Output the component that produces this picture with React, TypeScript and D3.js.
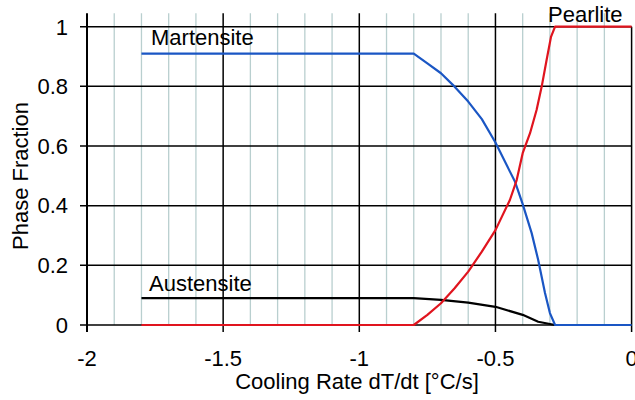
import React from "react";
import * as d3 from "d3";

const xTicks = [-2, -1.5, -1, -0.5, 0];
const xTickLabels = ["-2", "-1.5", "-1", "-0.5", "0"];
const xMinor = [-1.9, -1.8, -1.7, -1.6, -1.4, -1.3, -1.2, -1.1, -0.9, -0.8, -0.7, -0.6, -0.4, -0.3, -0.2, -0.1];
const yTicks = [0, 0.2, 0.4, 0.6, 0.8, 1];
const yTickLabels = ["0", "0.2", "0.4", "0.6", "0.8", "1"];

const martX = [-1.8, -0.8, -0.75, -0.7, -0.65, -0.6, -0.55, -0.5, -0.45, -0.428, -0.4, -0.367, -0.343, -0.318, -0.3, -0.281, 0];
const martY = [0.91, 0.91, 0.877, 0.844, 0.799, 0.749, 0.69, 0.612, 0.52, 0.48, 0.405, 0.308, 0.218, 0.107, 0.04, 0, 0];

const pearX = [-1.8, -0.8, -0.75, -0.7, -0.65, -0.6, -0.55, -0.5, -0.447, -0.422, -0.4, -0.373, -0.349, -0.33, -0.312, -0.296, -0.281, 0];
const pearY = [0, 0, 0.034, 0.073, 0.123, 0.179, 0.246, 0.318, 0.419, 0.486, 0.576, 0.643, 0.721, 0.8, 0.889, 0.966, 1, 1];

const ausX = [-1.8, -0.8, -0.7, -0.6, -0.5, -0.4, -0.343, -0.281];
const ausY = [0.09, 0.09, 0.084, 0.075, 0.061, 0.034, 0.011, 0];

const W = 635;
const H = 400;
const FONT = "Liberation Sans, Arial, Helvetica, sans-serif";

export default function App() {
  const x = d3.scaleLinear().domain([-2, 0]).range([87, 631.6]);
  const y = d3.scaleLinear().domain([0, 1]).range([325, 26.7]);
  const top = y(1.045);

  const mk = (xs: number[], ys: number[]) =>
    d3
      .line<number>()
      .x((_, i) => x(xs[i]))
      .y((_, i) => y(ys[i]))(xs.map((_, i) => i)) || "";

  return (
    <svg
      width={W}
      height={H}
      style={{ position: "absolute", left: 0, top: 0, background: "#fff" }}
      fontFamily={FONT}
    >
      {xMinor.map((v) => (
        <line key={"m" + v} x1={x(v)} x2={x(v)} y1={top} y2={y(0)} stroke="#b9cfcf" strokeWidth={1.3} />
      ))}
      {yTicks.map((v) => (
        <line key={"h" + v} x1={80} x2={x(0)} y1={y(v)} y2={y(v)} stroke="#000" strokeWidth={1.5} />
      ))}
      {xTicks.map((v) => (
        <line
          key={"v" + v}
          x1={x(v)}
          x2={x(v)}
          y1={v === 0 ? y(1) : top}
          y2={332}
          stroke="#000"
          strokeWidth={v === -2 ? 2 : 1.5}
        />
      ))}
      <path d={mk(ausX, ausY)} fill="none" stroke="#000" strokeWidth={2.2} strokeLinejoin="round" />
      <path d={mk(martX, martY)} fill="none" stroke="#1a56c4" strokeWidth={2.2} strokeLinejoin="round" />
      <path d={mk(pearX, pearY)} fill="none" stroke="#e0141e" strokeWidth={2.2} strokeLinejoin="round" />

      {yTicks.map((v, i) => (
        <text key={"yl" + v} x={68} y={y(v) + 7.8} textAnchor="end" fontSize={22} fill="#000">
          {yTickLabels[i]}
        </text>
      ))}
      {xTicks.map((v, i) => (
        <text key={"xl" + v} x={x(v)} y={366} textAnchor="middle" fontSize={22} fill="#000">
          {xTickLabels[i]}
        </text>
      ))}
      <text x={357} y={389} textAnchor="middle" fontSize={22} fill="#000">
        Cooling Rate dT/dt [°C/s]
      </text>
      <text
        transform={`translate(${28},${176}) rotate(-90)`}
        textAnchor="middle"
        fontSize={22}
        fill="#000"
      >
        Phase Fraction
      </text>
      <text x={151} y={45} fontSize={22} fill="#000">Martensite</text>
      <text x={548} y={22} fontSize={22} fill="#000">Pearlite</text>
      <text x={149} y={290.5} fontSize={22} fill="#000">Austensite</text>
    </svg>
  );
}
